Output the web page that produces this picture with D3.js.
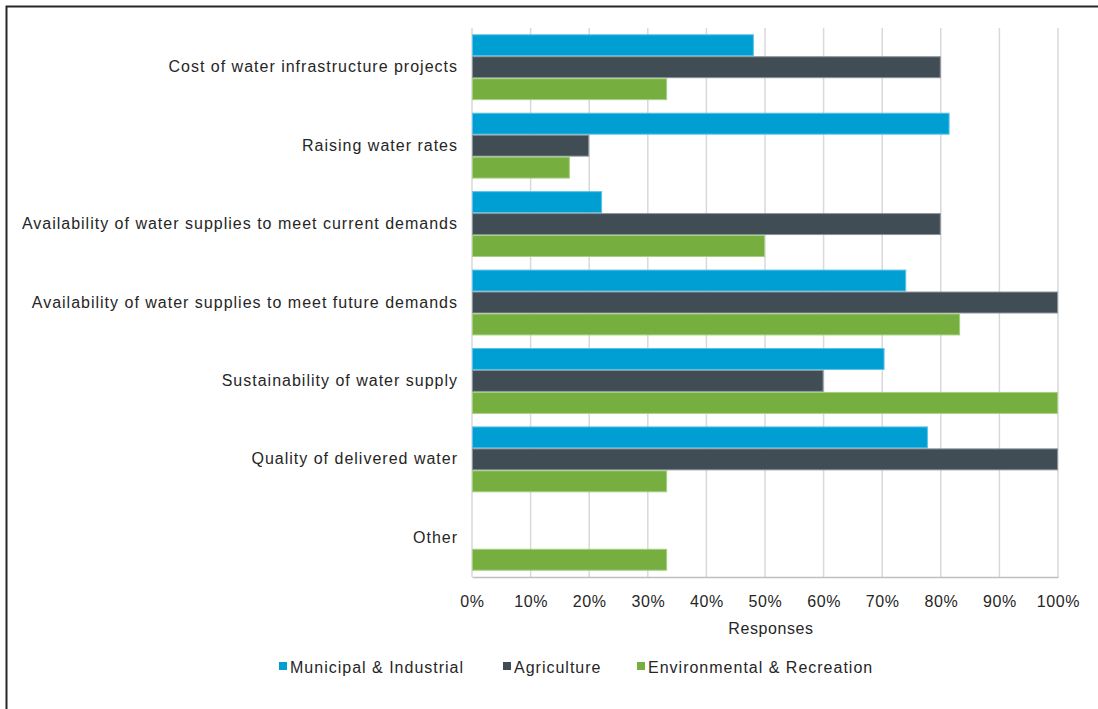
<!DOCTYPE html>
<html><head><meta charset="utf-8">
<script src="https://cdn.jsdelivr.net/npm/d3@7"></script>
<style>
html,body{margin:0;padding:0;background:#fff;}
svg{display:block;}
text{font-family:"Liberation Sans",Arial,sans-serif;fill:#262626;}
</style></head>
<body><svg id="chart" width="1098" height="709"></svg>
<script>
const categories = [
  "Cost of water infrastructure projects",
  "Raising water rates",
  "Availability of water supplies to meet current demands",
  "Availability of water supplies to meet future demands",
  "Sustainability of water supply",
  "Quality of delivered water",
  "Other"
];
const seriesNames = ["Municipal & Industrial", "Agriculture", "Environmental & Recreation"];
const municipal = [0.481, 0.815, 0.222, 0.741, 0.704, 0.778, 0];
const agriculture = [0.8, 0.2, 0.8, 1.0, 0.6, 1.0, 0];
const environmental = [0.333, 0.167, 0.5, 0.833, 1.0, 0.333, 0.333];
const ticks = [0, 0.1, 0.2, 0.3, 0.4, 0.5, 0.6, 0.7, 0.8, 0.9, 1.0];
const colors = ["#009FD3", "#414D55", "#76AF40"];
const strokes = ["#5cc3e6", "#8a9399", "#a6cf82"];

const svg = d3.select("#chart");
const m = {left: 472, right: 1058, top: 28, bottom: 577};
const FONT = '"Liberation Sans",Arial,sans-serif';

// frame
svg.append("rect").attr("x", 6.5).attr("y", 6.5).attr("width", 1100).attr("height", 720)
  .attr("fill", "none").attr("stroke", "#262626").attr("stroke-width", 2);

const x = d3.scaleLinear().domain([0, 1]).range([m.left, m.right]);
const y = d3.scaleBand().domain(categories).range([m.top, m.bottom]).paddingInner(0.16).paddingOuter(0.08);
const ySub = d3.scaleBand().domain(d3.range(3)).range([0, y.bandwidth()]);

// gridlines
svg.append("g").selectAll("line").data(ticks).join("line")
  .attr("x1", d => x(d)).attr("x2", d => x(d))
  .attr("y1", m.top).attr("y2", m.bottom)
  .attr("stroke", "#d9d9d9").attr("stroke-width", 1.5);

const data = categories.map((c, i) => ({c, vals: [municipal[i], agriculture[i], environmental[i]]}));
const g = svg.append("g").selectAll("g").data(data).join("g")
  .attr("transform", d => `translate(0,${y(d.c)})`);
g.selectAll("rect").data(d => d.vals.map((v, k) => ({v, k})).filter(e => e.v > 0)).join("rect")
  .attr("x", x(0) + 0.5)
  .attr("y", e => ySub(e.k) + 0.5)
  .attr("width", e => x(e.v) - x(0) - 1)
  .attr("height", ySub.bandwidth() - 1)
  .attr("fill", e => colors[e.k])
  .attr("stroke", e => strokes[e.k]).attr("stroke-width", 1);

// bottom axis
const xAxis = d3.axisBottom(x).tickValues(ticks).tickFormat(d3.format(".0%")).tickSize(0).tickPadding(19);
const ax = svg.append("g").attr("transform", `translate(0,${m.bottom})`).call(xAxis);
ax.select(".domain").attr("stroke", "#bfbfbf").attr("stroke-width", 1.5);
ax.selectAll("text").attr("font-size", 16).attr("fill", "#262626")
  .style("letter-spacing", "0.6px").style("font-family", FONT);

// y axis labels
const yAxis = d3.axisLeft(y).tickSize(0).tickPadding(14);
const ay = svg.append("g").attr("transform", `translate(${m.left},0)`).call(yAxis);
ay.select(".domain").remove();
ay.selectAll("text").attr("font-size", 16).attr("fill", "#262626")
  .style("letter-spacing", "1px").style("font-family", FONT);

// axis title
svg.append("text").attr("x", (m.left + m.right) / 2 + 6).attr("y", 634)
  .attr("text-anchor", "middle").attr("font-size", 16).style("letter-spacing", "0.6px").text("Responses");

// legend
const legX = [279, 503, 637];
const leg = svg.append("g").selectAll("g").data(seriesNames).join("g")
  .attr("transform", (d, i) => `translate(${legX[i]},673)`);
leg.append("rect").attr("x", 0).attr("y", -11).attr("width", 8).attr("height", 8)
  .attr("fill", (d, i) => colors[i]);
leg.append("text").attr("x", 11).attr("y", 0).attr("font-size", 16)
  .style("letter-spacing", "1px").text(d => d);
</script></body></html>
